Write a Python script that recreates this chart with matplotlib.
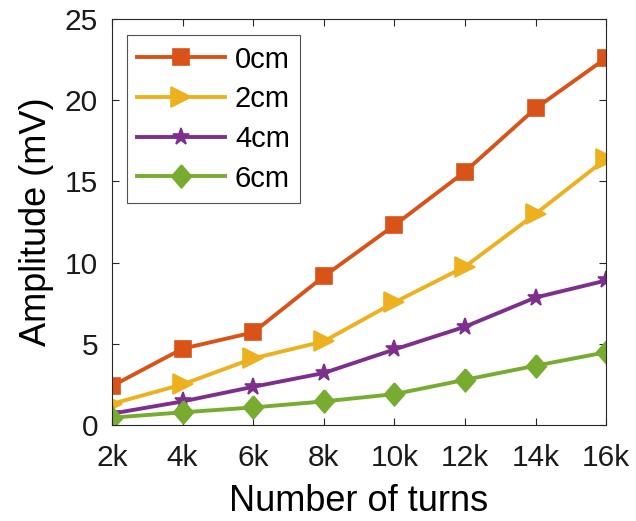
import matplotlib
matplotlib.use("Agg")
import matplotlib.pyplot as plt

turns = [2, 4, 6, 8, 10, 12, 14, 16]
tick_labels = ["2k", "4k", "6k", "8k", "10k", "12k", "14k", "16k"]
amp_0cm = [2.4, 4.7, 5.7, 9.15, 12.3, 15.6, 19.5, 22.6]
amp_2cm = [1.3, 2.5, 4.1, 5.15, 7.55, 9.75, 13.0, 16.4]
amp_4cm = [0.7, 1.45, 2.35, 3.2, 4.65, 6.05, 7.85, 8.9]
amp_6cm = [0.45, 0.78, 1.08, 1.45, 1.9, 2.78, 3.65, 4.48]
labels = ["0cm", "2cm", "4cm", "6cm"]

plt.rcParams['font.family'] = ['Liberation Sans', 'DejaVu Sans']
fig = plt.figure(figsize=(6.36, 5.21), dpi=100)
ax = fig.add_axes([0.176, 0.1843, 0.777, 0.779])

diamond = [(0, 1), (0.87, 0), (0, -1), (-0.87, 0), (0, 1)]
colors = ["#D95319", "#EDB120", "#7E2F8E", "#77AC30"]
markers = ["s", ">", "*", diamond]
msizes = [11.5, 14.5, 12.5, 16.5]
series = [amp_0cm, amp_2cm, amp_4cm, amp_6cm]
for y, c, m, ms, lab in zip(series, colors, markers, msizes, labels):
    ax.plot(turns, y, color=c, marker=m, markersize=ms, lw=2.8, label=lab,
            markeredgecolor=c, markerfacecolor=c, markeredgewidth=1.2)

ax.set_xlim(2, 16)
ax.set_ylim(0, 25)
ax.set_xticks(turns)
ax.set_xticklabels(tick_labels)
ax.set_yticks([0, 5, 10, 15, 20, 25])
ax.tick_params(direction='in', length=5, width=0.8, top=True, right=True,
               labelsize=21.5, colors='#262626', labelcolor='#1a1a1a')
ax.tick_params(axis='x', pad=14)
ax.tick_params(axis='y', pad=10)
for s in ax.spines.values():
    s.set_color('#262626')
    s.set_linewidth(0.8)
ax.set_xlabel("Number of turns", fontsize=26, labelpad=8)
ax.set_ylabel("Amplitude (mV)", fontsize=26, labelpad=8)

leg = ax.legend(loc='upper left', fontsize=21, frameon=True, fancybox=False,
                edgecolor='#262626', handlelength=3.0, handletextpad=0.35,
                borderpad=0.36, labelspacing=0.4, borderaxespad=0,
                bbox_to_anchor=(0.030, 0.9606))
leg.get_frame().set_linewidth(0.8)

fig.savefig("out.png", dpi=100)
